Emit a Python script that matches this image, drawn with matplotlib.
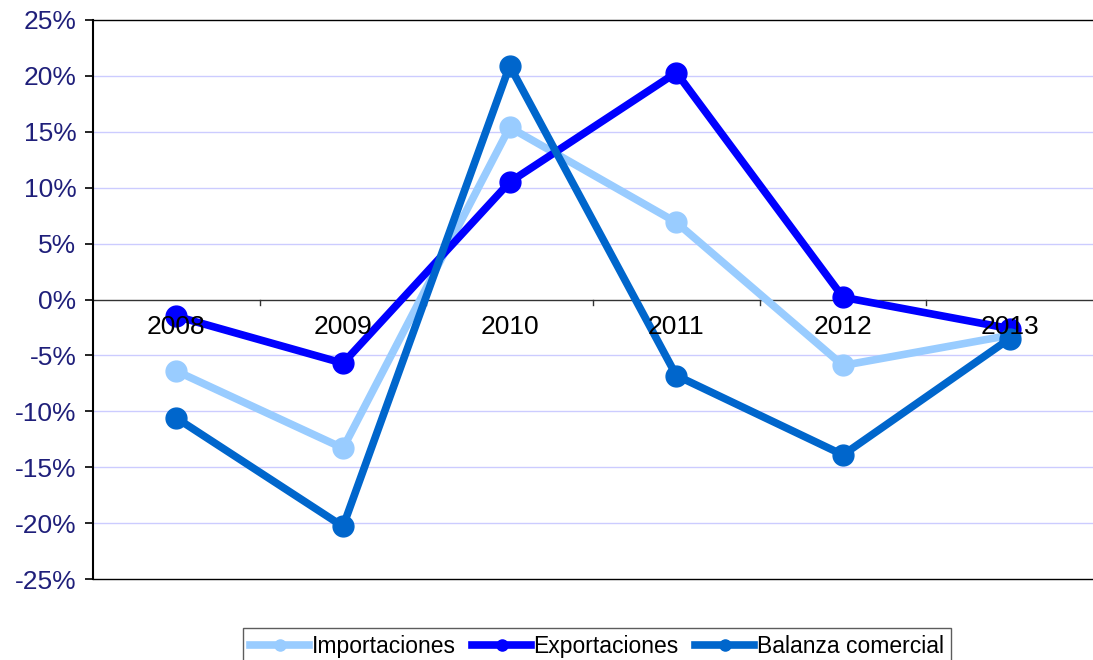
import matplotlib.pyplot as plt
import numpy as np

plt.rcParams['font.family'] = ['Liberation Sans', 'DejaVu Sans']

years = ['2008', '2009', '2010', '2011', '2012', '2013']
importaciones = [-6.4, -13.3, 15.4, 6.9, -5.9, -3.2]
exportaciones = [-1.5, -5.7, 10.5, 20.3, 0.2, -2.6]
balanza = [-10.6, -20.3, 20.9, -6.8, -13.9, -3.5]

fig = plt.figure(figsize=(10.93, 6.6), dpi=100)
ax = fig.add_axes([0.0851, 0.1227, 0.9149, 0.847])

x = np.arange(len(years))

# gridlines
for g in [-20, -15, -10, -5, 5, 10, 15, 20]:
    ax.axhline(g, color='#CCCCFF', linewidth=1.0, zorder=0)

ax.plot(x, importaciones, color='#99CCFF', linewidth=5.5, marker='o', markersize=15,
        label='Importaciones', zorder=3)
ax.plot(x, exportaciones, color='#0000FF', linewidth=5.5, marker='o', markersize=15,
        label='Exportaciones', zorder=4)
ax.plot(x, balanza, color='#0066CC', linewidth=5.5, marker='o', markersize=15,
        label='Balanza comercial', zorder=5)

ax.set_xlim(-0.5, 5.5)
ax.set_ylim(-25, 25)

# y axis
ax.set_yticks(np.arange(-25, 26, 5))
ax.set_yticklabels(['%d%%' % v for v in np.arange(-25, 26, 5)])
ax.tick_params(axis='y', direction='out', length=6, width=1.2, labelsize=19,
               labelcolor='#1F1F7A', pad=6)

# x axis at zero with ticks between categories
ax.spines['right'].set_visible(False)
ax.spines['left'].set_linewidth(1.5)
ax.spines['top'].set_linewidth(1.0)
ax.spines['bottom'].set_linewidth(1.0)
ax.axhline(0, color='#333333', linewidth=1.0, zorder=2)
ax.set_xticks(np.arange(0.5, 5.5, 1))
ax.set_xticklabels([])
ax.tick_params(axis='x', direction='in', length=0)
for t in np.arange(0.5, 5.5, 1):
    ax.plot([t, t], [0, -0.5], color='#333333', linewidth=1.0, zorder=2, clip_on=False)
for i, yr in enumerate(years):
    ax.text(i, -1.4, yr, ha='center', va='top', fontsize=19, color='black', zorder=6)

leg = fig.legend(loc='upper center', bbox_to_anchor=(0.546, 0.066), ncol=3,
                 fontsize=16.5, frameon=True, fancybox=False, edgecolor='#333333',
                 handlelength=2.6, handletextpad=0.1, columnspacing=0.7,
                 borderpad=0.3)
for h in leg.legend_handles:
    h.set_markersize(8)
leg.get_frame().set_linewidth(1.0)

fig.savefig('out.png', dpi=100)
